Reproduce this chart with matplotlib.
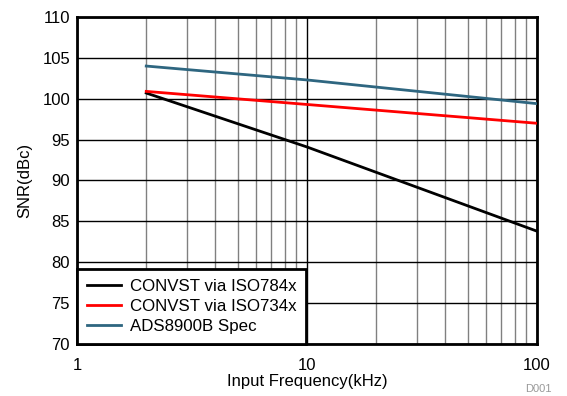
import matplotlib
matplotlib.use('Agg')
import matplotlib.pyplot as plt
from matplotlib.ticker import FixedLocator, NullFormatter

plt.rcParams['font.family'] = ['Liberation Sans', 'DejaVu Sans']

freq = [2, 10, 100]
snr_iso784 = [100.7, 94.1, 83.8]
snr_iso734 = [100.9, 99.3, 97.0]
snr_spec = [104.0, 102.3, 99.4]

LABELS = ['CONVST via ISO784x', 'CONVST via ISO734x', 'ADS8900B Spec']
COLORS = ['black', '#ff0000', '#2e6680']

fig = plt.figure(figsize=(5.67, 3.96), dpi=100)
ax = fig.add_axes([77 / 567, 52 / 396, 460 / 567, 327 / 396])

for ys, lab, col in zip([snr_iso784, snr_iso734, snr_spec], LABELS, COLORS):
    ax.plot(freq, ys, color=col, linewidth=2, label=lab, zorder=3)

ax.set_xscale('log')
ax.set_xlim(1, 100)
ax.set_ylim(70, 110)
ax.set_yticks(range(70, 111, 5))
ax.set_xticks([1, 10, 100])
ax.set_xticklabels(['1', '10', '100'])
minor = [m * d for d in (1, 10) for m in range(2, 10)]
ax.xaxis.set_minor_locator(FixedLocator(minor))
ax.xaxis.set_minor_formatter(NullFormatter())

ax.grid(True, which='major', axis='both', color='black', linewidth=1)
ax.grid(True, which='minor', axis='x', color='#808080', linewidth=1)
ax.tick_params(which='both', length=0, labelsize=12)
ax.tick_params(axis='x', pad=10)
ax.tick_params(axis='y', pad=5)

for s in ax.spines.values():
    s.set_linewidth(2)

ax.set_xlabel('Input Frequency(kHz)', fontsize=12, labelpad=1)
ax.set_ylabel('SNR(dBc)', fontsize=12, labelpad=7)

leg = ax.legend(loc='lower left', fontsize=12.2, frameon=True, fancybox=False,
                borderaxespad=0, handlelength=2.0, handletextpad=0.5,
                labelspacing=0.28, borderpad=0.6)
leg.get_frame().set_edgecolor('black')
leg.get_frame().set_linewidth(2)
leg.get_frame().set_alpha(1)

fig.text(552 / 567, 4 / 396, 'D001', fontsize=8, color='#999999', ha='right')

fig.savefig('out.png', dpi=100)
